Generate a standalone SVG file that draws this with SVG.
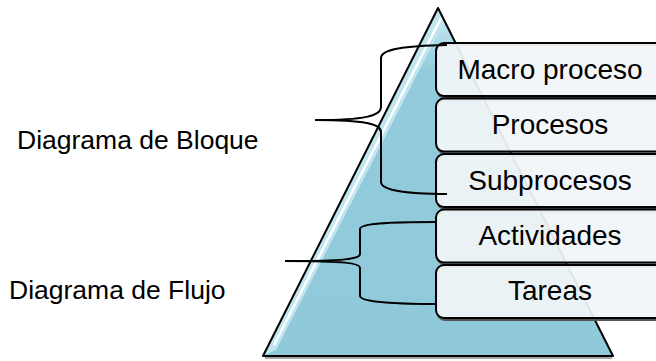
<svg xmlns="http://www.w3.org/2000/svg" width="656" height="361" viewBox="0 0 656 361">
  <style>
    .lbl { font-family: "Liberation Sans", Arial, sans-serif; fill: #000; }
    .side { font-size: 26.5px; }
    .boxtxt { font-size: 28px; text-anchor: middle; }
    .box { fill: #f1f5f8; fill-opacity: 0.93; stroke: #000; stroke-width: 2; }
    .shadow { fill: none; stroke: #555; stroke-width: 2; }
    .brace { fill: none; stroke: #000; stroke-width: 2; }
  </style>
  <defs>
    <linearGradient id="pyrFill" x1="0" y1="0" x2="0" y2="1">
      <stop offset="0" stop-color="#cdebf3"/>
      <stop offset="0.18" stop-color="#93cbdc"/>
      <stop offset="1" stop-color="#8fc9da"/>
    </linearGradient>
  </defs>

  <!-- pyramid -->
  <g id="pyramid">
    <polygon points="438,8 613,356 263,356" fill="url(#pyrFill)"/>
    <!-- bevel band along the left face -->
    <polygon points="438,8 444,22 276,350 263,356" fill="#bfe5ef"/>
    <line x1="441" y1="18" x2="274" y2="345" stroke="#ffffff" stroke-width="2.5"/>
    <polygon points="438,8 613,356 263,356" fill="none" stroke="#000" stroke-width="2" stroke-linejoin="round"/>
    <line x1="265" y1="358" x2="612" y2="358" stroke="#888" stroke-width="1.5"/>
  </g>

  <!-- boxes -->
  <g id="macro-proceso">
    <rect class="shadow" x="437" y="45" width="232" height="53" rx="8"/>
    <rect class="box" x="436" y="43" width="232" height="53" rx="8"/>
    <text class="lbl boxtxt" x="550" y="79">Macro proceso</text>
  </g>
  <g id="procesos">
    <rect class="shadow" x="437" y="100.5" width="232" height="53" rx="8"/>
    <rect class="box" x="436" y="98.5" width="232" height="53" rx="8"/>
    <text class="lbl boxtxt" x="550" y="134">Procesos</text>
  </g>
  <g id="subprocesos">
    <rect class="shadow" x="437" y="156" width="232" height="53" rx="8"/>
    <rect class="box" x="436" y="154" width="232" height="53" rx="8"/>
    <text class="lbl boxtxt" x="550" y="190">Subprocesos</text>
  </g>
  <g id="actividades">
    <rect class="shadow" x="437" y="211.5" width="232" height="53" rx="8"/>
    <rect class="box" x="436" y="209.5" width="232" height="53" rx="8"/>
    <text class="lbl boxtxt" x="550" y="245">Actividades</text>
  </g>
  <g id="tareas">
    <rect class="shadow" x="437" y="267" width="232" height="53" rx="8"/>
    <rect class="box" x="436" y="265" width="232" height="53" rx="8"/>
    <text class="lbl boxtxt" x="550" y="300">Tareas</text>
  </g>

  <!-- side labels -->
  <g id="diagrama-bloque">
    <text class="lbl side" x="17" y="149">Diagrama de Bloque</text>
  </g>
  <g id="diagrama-flujo">
    <text class="lbl side" x="9" y="299">Diagrama de Flujo</text>
  </g>

  <!-- braces -->
  <g id="connectors">
    <path class="brace" d="M447,45 C405,46 381,49 381,58 L381,107 C381,116 365,120 315,120 C365,120 381,124 381,132 L381,182 C381,190 405,194 447,194"/>
    <path class="brace" d="M435,222 C395,222 360,223 360,229 L360,254 C360,259 345,261 285,261 C345,261 360,263 360,268 L360,296 C360,302 395,304 435,304"/>
  </g>
</svg>
